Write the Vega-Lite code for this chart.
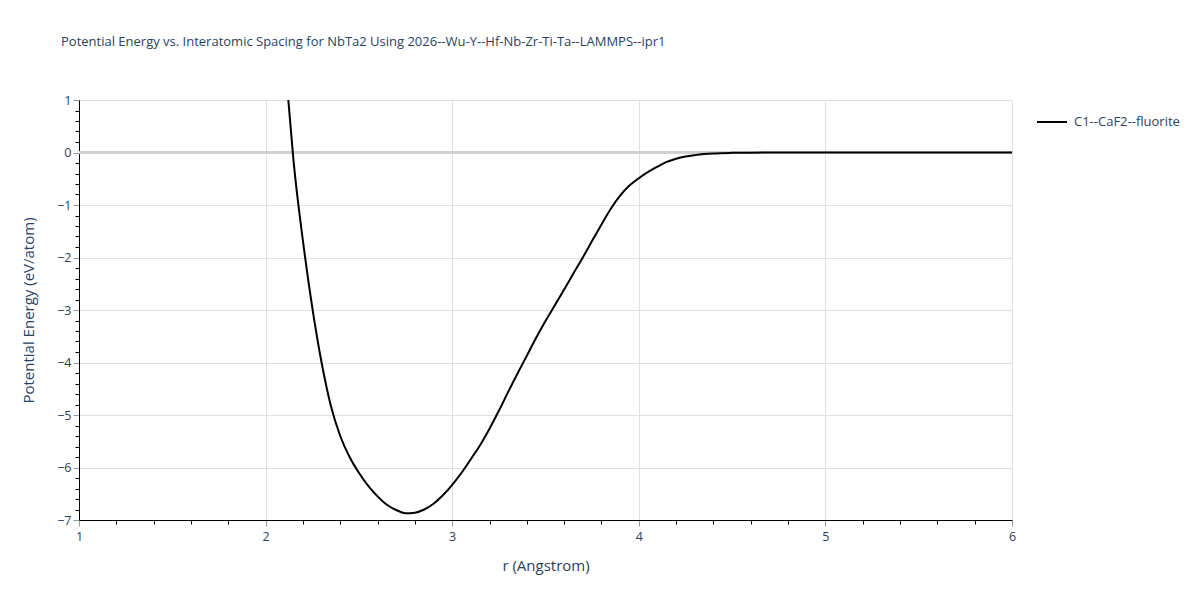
{
  "$schema": "https://vega.github.io/schema/vega-lite/v6.json",
  "autosize": {"type": "none"},
  "padding": {"left": 79, "top": 100, "right": 188, "bottom": 80},
  "width": 933,
  "height": 420,
  "background": "white",
  "title": {
    "text": "Potential Energy vs. Interatomic Spacing for NbTa2 Using 2026--Wu-Y--Hf-Nb-Zr-Ti-Ta--LAMMPS--ipr1",
    "anchor": "start",
    "frame": "group",
    "dx": -18,
    "offset": 45,
    "font": "Open Sans",
    "fontSize": 13,
    "fontWeight": "normal",
    "color": "#2a3f5f"
  },
  "config": {
    "view": {"stroke": null},
    "axis": {
      "labelFont": "Open Sans",
      "titleFont": "Open Sans",
      "labelColor": "#2a3f5f",
      "titleColor": "#2a3f5f",
      "labelFontSize": 12.5,
      "titleFontSize": 15,
      "titleFontWeight": "normal",
      "domainColor": "black",
      "domainWidth": 1,
      "labelOverlap": false,
      "grid": true
    },
    "legend": {
      "labelFont": "Open Sans",
      "labelFontSize": 13,
      "labelColor": "#2a3f5f"
    }
  },
  "data": {
    "values": [
      {"r": 2.10, "E": 2.0, "s": "C1--CaF2--fluorite"},
      {"r": 2.12, "E": 1.07, "s": "C1--CaF2--fluorite"},
      {"r": 2.15, "E": -0.17, "s": "C1--CaF2--fluorite"},
      {"r": 2.20, "E": -1.68, "s": "C1--CaF2--fluorite"},
      {"r": 2.25, "E": -2.95, "s": "C1--CaF2--fluorite"},
      {"r": 2.30, "E": -4.0, "s": "C1--CaF2--fluorite"},
      {"r": 2.35, "E": -4.83, "s": "C1--CaF2--fluorite"},
      {"r": 2.40, "E": -5.4, "s": "C1--CaF2--fluorite"},
      {"r": 2.45, "E": -5.8, "s": "C1--CaF2--fluorite"},
      {"r": 2.50, "E": -6.1, "s": "C1--CaF2--fluorite"},
      {"r": 2.55, "E": -6.35, "s": "C1--CaF2--fluorite"},
      {"r": 2.60, "E": -6.55, "s": "C1--CaF2--fluorite"},
      {"r": 2.65, "E": -6.71, "s": "C1--CaF2--fluorite"},
      {"r": 2.70, "E": -6.81, "s": "C1--CaF2--fluorite"},
      {"r": 2.75, "E": -6.87, "s": "C1--CaF2--fluorite"},
      {"r": 2.80, "E": -6.86, "s": "C1--CaF2--fluorite"},
      {"r": 2.85, "E": -6.8, "s": "C1--CaF2--fluorite"},
      {"r": 2.90, "E": -6.69, "s": "C1--CaF2--fluorite"},
      {"r": 2.95, "E": -6.53, "s": "C1--CaF2--fluorite"},
      {"r": 3.00, "E": -6.33, "s": "C1--CaF2--fluorite"},
      {"r": 3.05, "E": -6.1, "s": "C1--CaF2--fluorite"},
      {"r": 3.10, "E": -5.84, "s": "C1--CaF2--fluorite"},
      {"r": 3.15, "E": -5.57, "s": "C1--CaF2--fluorite"},
      {"r": 3.20, "E": -5.26, "s": "C1--CaF2--fluorite"},
      {"r": 3.25, "E": -4.92, "s": "C1--CaF2--fluorite"},
      {"r": 3.30, "E": -4.56, "s": "C1--CaF2--fluorite"},
      {"r": 3.35, "E": -4.21, "s": "C1--CaF2--fluorite"},
      {"r": 3.40, "E": -3.87, "s": "C1--CaF2--fluorite"},
      {"r": 3.45, "E": -3.53, "s": "C1--CaF2--fluorite"},
      {"r": 3.50, "E": -3.21, "s": "C1--CaF2--fluorite"},
      {"r": 3.55, "E": -2.91, "s": "C1--CaF2--fluorite"},
      {"r": 3.60, "E": -2.61, "s": "C1--CaF2--fluorite"},
      {"r": 3.65, "E": -2.3, "s": "C1--CaF2--fluorite"},
      {"r": 3.70, "E": -2.0, "s": "C1--CaF2--fluorite"},
      {"r": 3.75, "E": -1.68, "s": "C1--CaF2--fluorite"},
      {"r": 3.80, "E": -1.37, "s": "C1--CaF2--fluorite"},
      {"r": 3.85, "E": -1.07, "s": "C1--CaF2--fluorite"},
      {"r": 3.90, "E": -0.82, "s": "C1--CaF2--fluorite"},
      {"r": 3.95, "E": -0.63, "s": "C1--CaF2--fluorite"},
      {"r": 4.00, "E": -0.49, "s": "C1--CaF2--fluorite"},
      {"r": 4.05, "E": -0.37, "s": "C1--CaF2--fluorite"},
      {"r": 4.10, "E": -0.27, "s": "C1--CaF2--fluorite"},
      {"r": 4.15, "E": -0.18, "s": "C1--CaF2--fluorite"},
      {"r": 4.20, "E": -0.12, "s": "C1--CaF2--fluorite"},
      {"r": 4.25, "E": -0.077, "s": "C1--CaF2--fluorite"},
      {"r": 4.30, "E": -0.05, "s": "C1--CaF2--fluorite"},
      {"r": 4.35, "E": -0.03, "s": "C1--CaF2--fluorite"},
      {"r": 4.40, "E": -0.018, "s": "C1--CaF2--fluorite"},
      {"r": 4.50, "E": -0.007, "s": "C1--CaF2--fluorite"},
      {"r": 4.60, "E": -0.003, "s": "C1--CaF2--fluorite"},
      {"r": 4.80, "E": -0.001, "s": "C1--CaF2--fluorite"},
      {"r": 5.00, "E": 0, "s": "C1--CaF2--fluorite"},
      {"r": 5.50, "E": 0, "s": "C1--CaF2--fluorite"},
      {"r": 6.00, "E": 0, "s": "C1--CaF2--fluorite"}
    ]
  },
  "encoding": {
    "y": {
      "type": "quantitative",
      "scale": {"domain": [-7, 1], "nice": false, "zero": false},
      "title": "Potential Energy (eV/atom)",
      "axis": {
        "values": [-7, -6.8, -6.6, -6.4, -6.2, -6, -5.8, -5.6, -5.4, -5.2, -5, -4.8, -4.6, -4.4, -4.2, -4, -3.8, -3.6, -3.4, -3.2, -3, -2.8, -2.6, -2.4, -2.2, -2, -1.8, -1.6, -1.4, -1.2, -1, -0.8, -0.6, -0.4, -0.2, 0, 0.2, 0.4, 0.6, 0.8, 1],
        "labelExpr": "abs(datum.value - round(datum.value)) < 0.001 ? format(round(datum.value), 'd') : ''",
        "tickSize": {"condition": {"test": "abs(datum.value - round(datum.value)) < 0.001", "value": 6}, "value": 4},
        "tickColor": {"condition": {"test": "abs(datum.value - round(datum.value)) < 0.001", "value": "#999999"}, "value": "black"},
        "grid": true,
        "gridColor": {"condition": {"test": "abs(datum.value - round(datum.value)) < 0.001", "value": "#e0e0e0"}, "value": "rgba(0,0,0,0)"},
        "labelPadding": 2,
        "titlePadding": 20,
        "labelFlush": false
      }
    }
  },
  "layer": [
    {
      "mark": {"type": "rule", "color": "#d0d0d0", "strokeWidth": 2},
      "encoding": {
        "y": {"datum": 0, "type": "quantitative"}
      }
    },
    {
      "mark": {"type": "line", "strokeWidth": 2, "clip": true, "interpolate": "monotone"},
      "encoding": {
        "x": {
          "field": "r",
          "type": "quantitative",
          "scale": {"domain": [1, 6], "nice": false, "zero": false},
          "title": "r (Angstrom)",
          "axis": {
            "values": [1, 1.2, 1.4, 1.6, 1.8, 2, 2.2, 2.4, 2.6, 2.8, 3, 3.2, 3.4, 3.6, 3.8, 4, 4.2, 4.4, 4.6, 4.8, 5, 5.2, 5.4, 5.6, 5.8, 6],
            "labelExpr": "abs(datum.value - round(datum.value)) < 0.001 ? format(round(datum.value), 'd') : ''",
            "tickSize": {"condition": {"test": "abs(datum.value - round(datum.value)) < 0.001", "value": 6}, "value": 4},
            "tickColor": {"condition": {"test": "abs(datum.value - round(datum.value)) < 0.001", "value": "#999999"}, "value": "black"},
            "gridColor": {"condition": {"test": "abs(datum.value - round(datum.value)) < 0.001", "value": "#e0e0e0"}, "value": "rgba(0,0,0,0)"},
            "labelPadding": 4,
            "titlePadding": 16,
            "labelFlush": false
          }
        },
        "y": {"field": "E", "type": "quantitative"},
        "color": {
          "field": "s",
          "type": "nominal",
          "scale": {"range": ["black"]},
          "legend": {
            "title": null,
            "orient": "none",
            "legendX": 957,
            "legendY": 6,
            "symbolType": "stroke",
            "symbolSize": 900,
            "symbolStrokeWidth": 2,
            "labelOffset": 6
          }
        }
      }
    }
  ]
}
